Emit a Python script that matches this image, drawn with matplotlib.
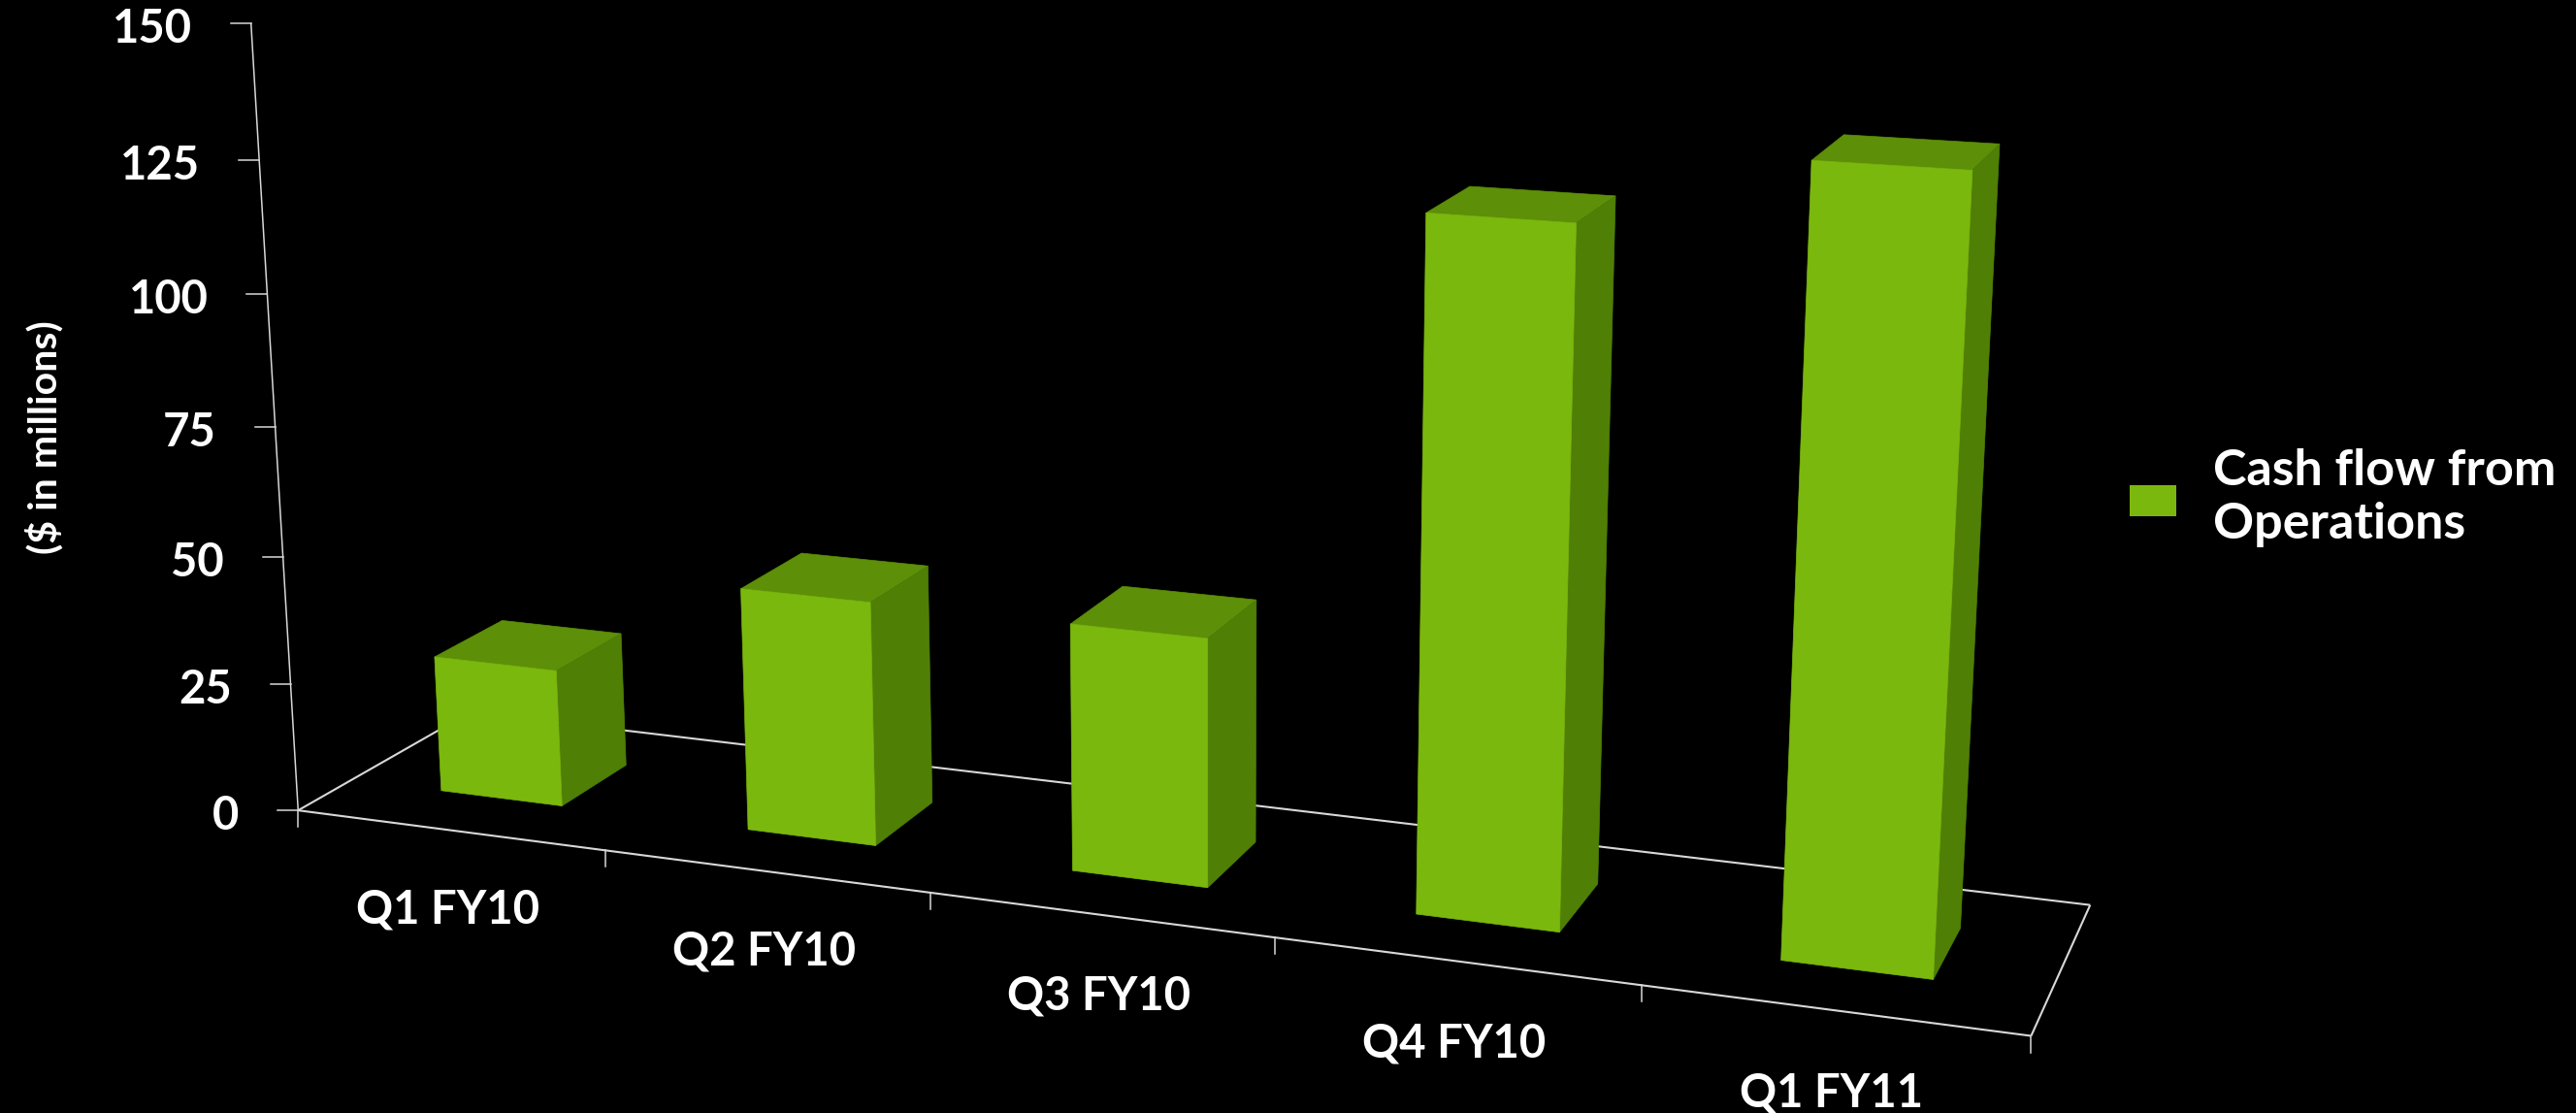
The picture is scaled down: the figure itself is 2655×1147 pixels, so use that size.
import numpy as np
import matplotlib
matplotlib.use("Agg")
import matplotlib.pyplot as plt

plt.rcParams['font.family'] = ['Lato', 'DejaVu Sans']

# chart data
quarters = ["Q1 FY10", "Q2 FY10", "Q3 FY10", "Q4 FY10", "Q1 FY11"]
cash_flow = [26.9, 46.9, 46.8, 125.9, 138.9]
value_ticks = [0, 25, 50, 75, 100, 125, 150]
legend_lines = "Cash flow from\nOperations"
value_title = "($ in millions)"

# colours
FRONT = "#7ab80e"
TOP = "#5d8f08"
SIDE = "#507f06"
AXIS = "#d8d8d8"

# camera: (category, value, depth) -> pixel
CAMERA = np.array([
    [299.42618786, -0.40891249, 213.97386973, 307.27808292],
    [17.00153866, -5.41783120, -46.32089060, 835.13670933],
    [-0.027611769, -0.00032865191, 0.074983444, 1.0],
])

BAR_GAP = 0.3  # both along the category axis and in depth


def project(cat, val, depth):
    h = CAMERA @ np.array([cat, val, depth, 1.0])
    return h[0] / h[2], h[1] / h[2]


def face(ax, corners, color, z=3):
    pts = [project(*c) for c in corners]
    ax.fill([p[0] for p in pts], [p[1] for p in pts], color=color, lw=0.5, zorder=z)


def line3d(ax, a, b, lw=1.5):
    pa, pb = project(*a), project(*b)
    ax.plot([pa[0], pb[0]], [pa[1], pb[1]], color=AXIS, lw=lw, zorder=2,
            solid_capstyle="butt")


fig = plt.figure(figsize=(26.55, 11.47), dpi=100, facecolor="black")
ax = fig.add_axes([0, 0, 1, 1])
ax.set_xlim(0, 2655)
ax.set_ylim(1147, 0)
ax.axis("off")

# floor outline and value axis
n = len(quarters)
top_val = value_ticks[-1]
line3d(ax, (0, 0, 0), (n, 0, 0))
line3d(ax, (0, 0, 1), (n, 0, 1))
line3d(ax, (0, 0, 0), (0, 0, 1))
line3d(ax, (n, 0, 0), (n, 0, 1))
line3d(ax, (0, 0, 0), (0, top_val, 0), lw=1.1)

# value ticks and labels
for v in value_ticks:
    x, y = project(0, v, 0)
    ax.plot([x - 21, x], [y, y], color=AXIS, lw=1.1, zorder=2)
    ax.text(x - 61, y + 20, str(v), color="white", fontsize=34, fontweight="bold",
            ha="right", va="baseline")

# category ticks and labels
for i in range(n + 1):
    x, y = project(i, 0, 0)
    ax.plot([x, x], [y, y + 17], color=AXIS, lw=1.1, zorder=2)

for i, q in enumerate(quarters):
    x, y = project(i + 0.5, 0, 0)
    ax.text(x - 2, y + 82 + i, q, color="white", fontsize=34, fontweight="bold",
            ha="center", va="center")

# bars
lo, hi = BAR_GAP, 1 - BAR_GAP
for i, v in enumerate(cash_flow):
    x0, x1 = i + lo, i + hi
    face(ax, [(x0, v, lo), (x1, v, lo), (x1, v, hi), (x0, v, hi)], TOP)
    face(ax, [(x1, 0, lo), (x1, 0, hi), (x1, v, hi), (x1, v, lo)], SIDE)
    face(ax, [(x0, 0, lo), (x1, 0, lo), (x1, v, lo), (x0, v, lo)], FRONT, z=4)

# value axis title
ax.text(46, 451, value_title, color="white", fontsize=29.5, fontweight="bold",
        rotation=90, ha="center", va="center")

# legend
ax.fill([2195, 2243, 2243, 2195], [500, 500, 532, 532], color=FRONT, lw=0)
ax.text(2281, 513, legend_lines, color="white", fontsize=37.5, fontweight="bold",
        ha="left", va="center", linespacing=1.2)

fig.savefig("out.png", dpi=100, facecolor="black")
